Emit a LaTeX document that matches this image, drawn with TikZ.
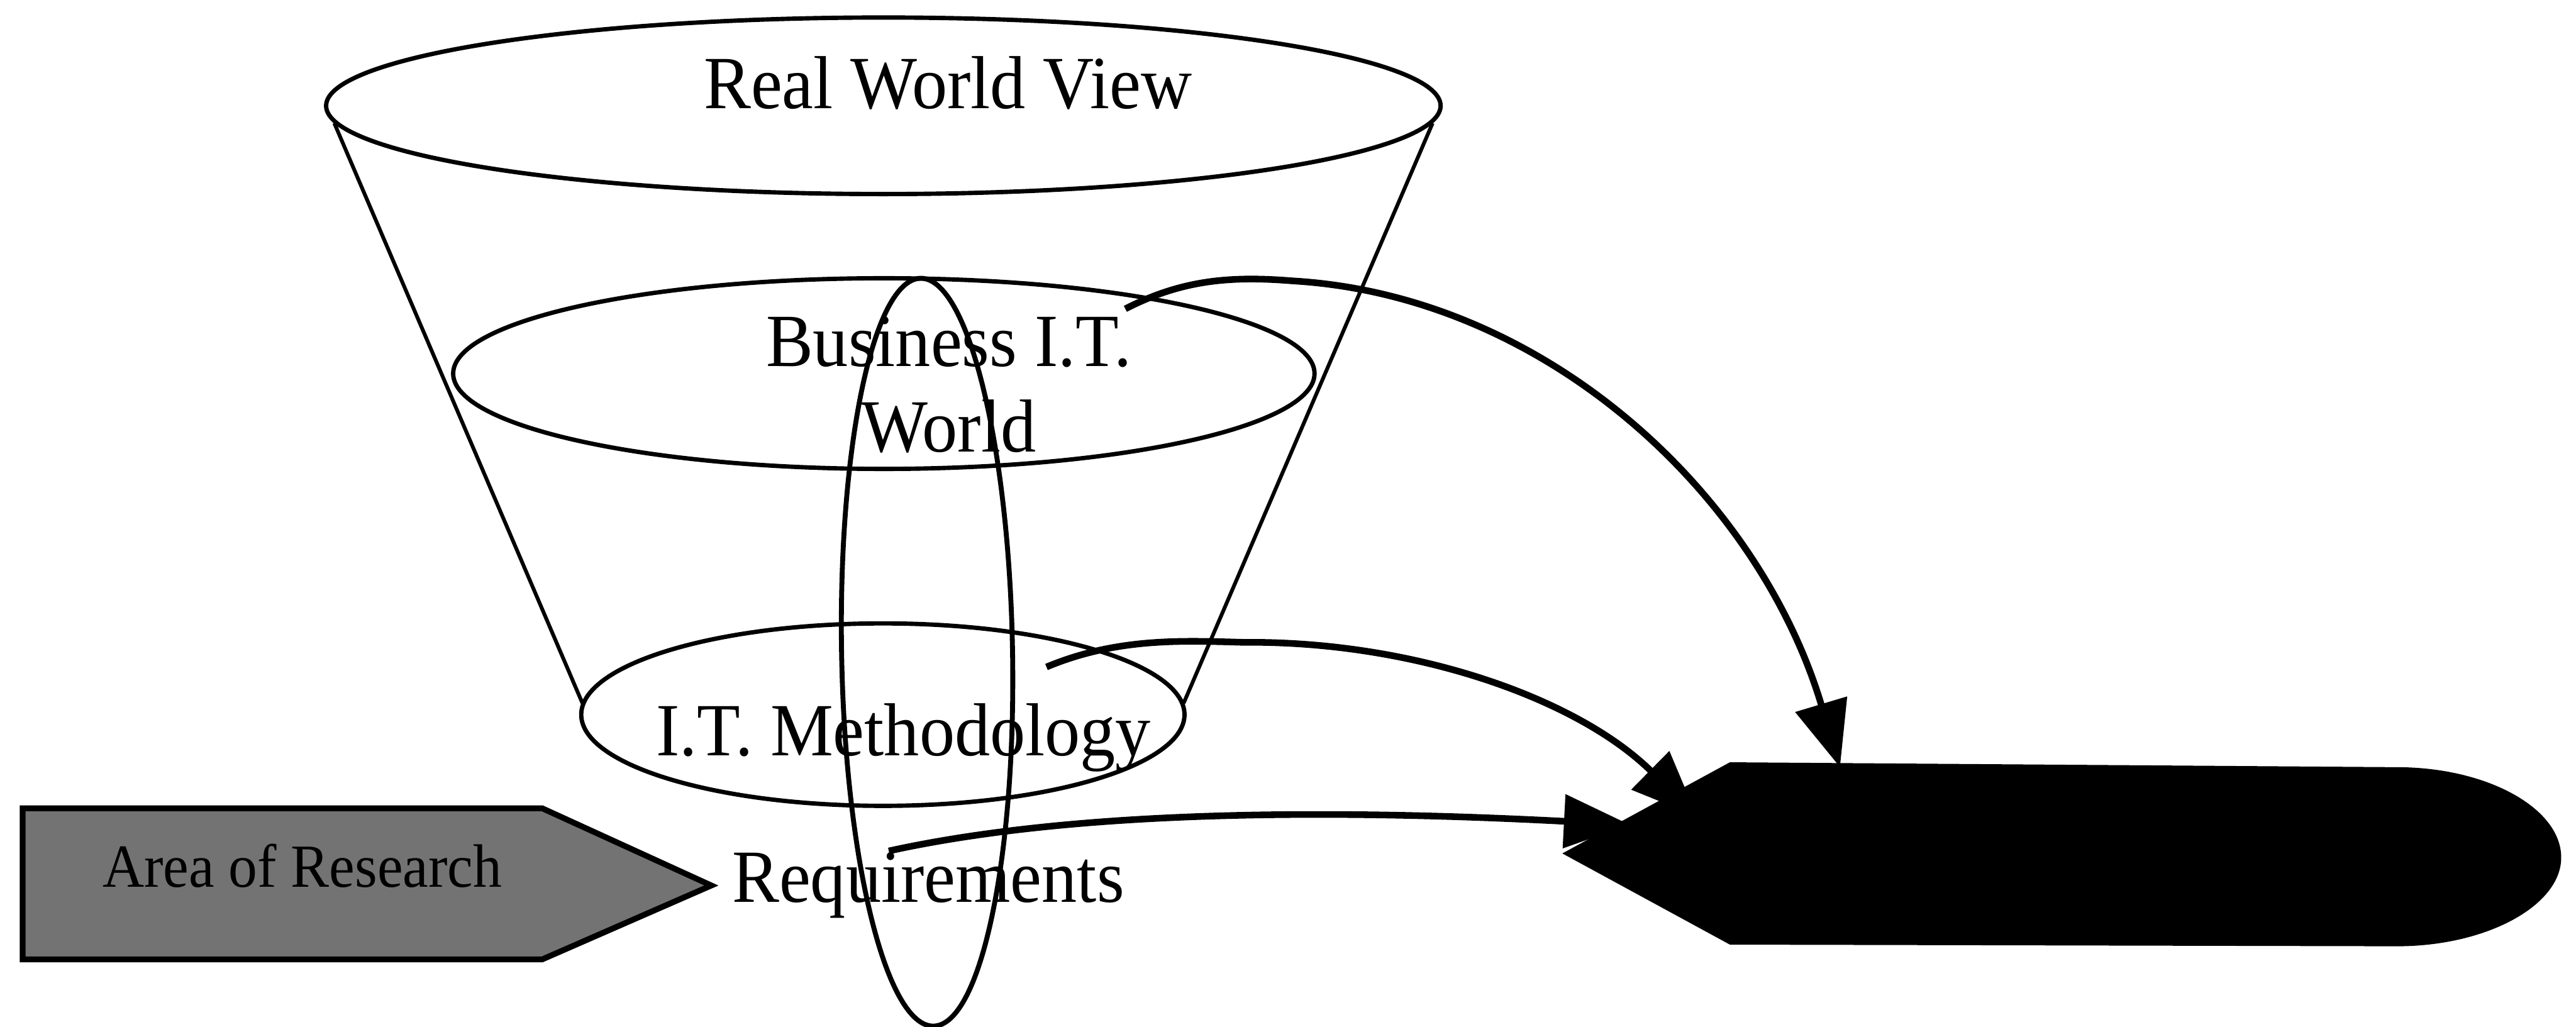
\documentclass[tikz,border=0pt]{standalone}
\usepackage{fontspec}
\setmainfont{Liberation Serif}[FakeStretch=0.94]
\usetikzlibrary{shapes.geometric,arrows.meta}
\begin{document}
\begin{tikzpicture}[x=0.01cm,y=-0.01cm,
  lbl/.style={anchor=base, inner sep=0pt, font=\fontsize{13}{15}\selectfont},
  ring/.style={draw, ellipse, line width=0.75pt, inner sep=0pt},
  conn/.style={line width=1.15pt, -{Triangle[length=0.4cm,width=0.32cm]}}]
\useasboundingbox (0,0) rectangle (1568,625);
% funnel
\node[ring, minimum width=6.78cm, minimum height=1.074cm] (rwv) at (537.7,64.4) {};
\node[ring, minimum width=5.24cm, minimum height=1.16cm] (bitw) at (538,227.4) {};
\node[ring, minimum width=3.67cm, minimum height=1.11cm] (itm) at (537.4,435) {};
\draw[line width=0.65pt] (203.5,75) -- (354.5,428);
\draw[line width=0.65pt] (872,75) -- (720.5,428);
% vertical ellipse (area)
\node[ring, line width=0.85pt, minimum width=1.04cm, minimum height=4.55cm, rotate=1] (area) at (564.3,397) {};
% area of research arrow box
\draw[line width=1pt, fill=black!55] (13.8,492) -- (330,492) -- (433,539) -- (330,584) -- (13.8,584) -- cycle;
\node[lbl, font=\fontsize{10.6}{12}\selectfont] (aor) at (184,540) {Area of Research};
% black display shape
\fill[black] (951,519.5) -- (1053,464) -- (1459,467)
  .. controls (1514,467) and (1559,492) .. (1559,522)
  .. controls (1559,551) and (1514,576) .. (1459,576)
  -- (1053,575) -- cycle;
% labels
\node[lbl] (t1) at (577,66) {Real World View};
\node[lbl] (t2) at (577.5,223) {Business I.T.};
\node[lbl] (t3) at (577.5,275) {World};
\node[lbl] (t4) at (550,460) {I.T. Methodology};
\node[lbl] (t5) at (565,549) {Requirements};
% connectors
\coordinate (s1) at (685,188);
\coordinate (s2) at (637,406);
\coordinate (s3) at (541,518);
\coordinate (e1) at (1120,467);
\coordinate (e2) at (1033,497);
\coordinate (e3) at (992,502);
\draw[conn] (s1) .. controls (720,170) and (750,168) .. (787,171)
  .. controls (940,180) and (1070,300) .. (e1);
\draw[conn] (s2) .. controls (680,388) and (720,390) .. (757,391)
  .. controls (860,390) and (960,425) .. (e2);
\draw[conn] (s3) .. controls (650,494) and (800,492) .. (e3);
\end{tikzpicture}
\end{document}
